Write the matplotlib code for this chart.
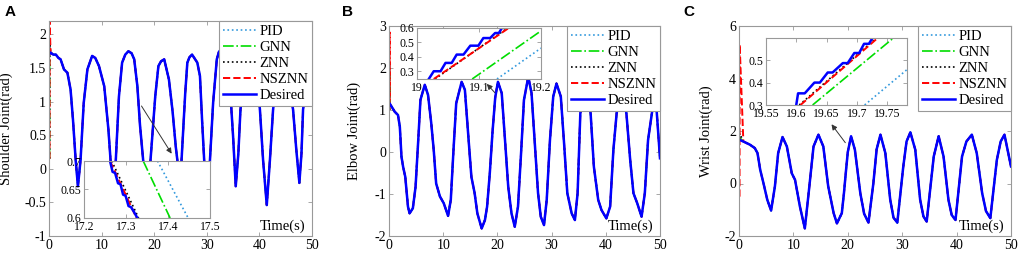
import numpy as np
import matplotlib
matplotlib.use("Agg")
import matplotlib.pyplot as plt

plt.rcParams['font.family'] = ['Liberation Serif', 'DejaVu Serif']
plt.rcParams['axes.unicode_minus'] = False

# ---- desired trajectories ----
t_a = [0, 0.3, 0.8, 1.3, 1.8, 2.2, 2.85, 3.5, 4.1, 4.56, 5.07, 5.5, 6.0, 6.6, 7.3, 8.2, 8.8,
       9.5, 10.5, 11.3, 11.7, 12.2, 12.7, 13.3, 13.9, 14.5, 15.1, 15.7, 16.2, 16.8, 17.3, 17.9,
       18.6, 19.3, 20.2, 20.8, 21.3, 21.9, 22.8, 23.5, 24.1, 24.4, 24.8, 25.2, 25.9, 26.3, 26.7,
       27.2, 28.2, 28.7, 29.1, 29.5, 30.0, 30.6, 31.2, 31.9, 32.3, 32.8, 33.8, 34.4, 35.0, 35.5,
       36.0, 36.4, 37.2, 38.3, 39.4, 40.1, 40.7, 41.4, 42.0, 42.6, 43.4, 44.2, 45.3, 46.4, 47.0,
       47.6, 48.0, 48.3, 49.0, 49.6, 50.0]
q_a = [1.70, 1.73, 1.70, 1.70, 1.65, 1.63, 1.48, 1.43, 1.18, 0.73, 0.13, -0.26, 0.13, 0.98, 1.48,
       1.68, 1.65, 1.53, 1.23, 0.58, 0.13, -0.40, 0.13, 1.08, 1.58, 1.70, 1.75, 1.72, 1.63, 1.23,
       0.65, 0.13, -0.45, 0.13, 1.08, 1.53, 1.60, 1.63, 1.33, 0.85, 0.33, 0.13, -0.40, 0.13, 1.13,
       1.58, 1.66, 1.70, 1.58, 1.38, 0.73, 0.13, -0.40, 0.13, 0.98, 1.63, 1.74, 1.79, 1.68, 1.23,
       0.48, -0.26, 0.23, 0.88, 1.45, 1.70, 1.50, 0.88, 0.13, -0.54, 0.13, 0.88, 1.45, 1.70, 1.50,
       0.88, 0.30, -0.21, 0.23, 0.88, 1.35, 1.60, 1.62]

t_b = [0, 0.1, 1.05, 1.66, 2.0, 2.3, 2.6, 3.0, 3.5, 3.8, 4.4, 4.9, 5.4, 5.8, 6.6, 7.2, 7.8, 8.25,
       8.7, 9.4, 10.1, 10.9, 11.4, 11.9, 12.4, 13.4, 14.0, 14.6, 15.2, 15.8, 16.3, 17.1, 17.7,
       18.1, 18.6, 19.1, 19.6, 20.1, 20.8, 21.4, 22.0, 22.6, 23.2, 23.8, 24.4, 24.9, 25.7, 26.3,
       26.9, 27.5, 28.0, 28.6, 29.1, 29.7, 30.3, 30.9, 31.7, 32.3, 32.9, 33.7, 34.3, 34.8, 35.3,
       36.3, 37.2, 37.8, 38.6, 39.2, 40.1, 40.8, 41.4, 42.0, 42.9, 43.8, 44.5, 45.1, 45.8, 46.6,
       47.2, 47.8, 48.5, 49.1, 50.0]
q_b = [1.10, 1.16, 0.96, 0.88, 0.60, -0.11, -0.35, -0.59, -1.30, -1.46, -1.34, -0.83, 0.29, 1.24,
       1.60, 1.36, 0.68, 0.05, -0.75, -1.06, -1.22, -1.52, -1.14, 0.05, 1.16, 1.67, 1.48, 0.44,
       -0.59, -0.98, -1.46, -1.82, -1.62, -1.30, -0.50, 0.48, 1.30, 1.67, 1.40, 0.29, -0.83, -1.46,
       -1.78, -1.30, 0.05, 1.24, 1.79, 1.40, 0.21, -0.98, -1.54, -1.74, -1.14, 0.29, 1.32, 1.63,
       1.32, 0.21, -0.98, -1.46, -1.62, -0.98, 0.92, 1.60, 0.92, -0.35, -1.14, -1.38, -1.58, -1.30,
       0.05, 0.92, 1.60, 0.92, -0.19, -0.98, -1.22, -1.54, -0.98, 0.29, 0.92, 1.50, -0.15]

t_c = [0, 0.8, 2.0, 2.9, 3.4, 3.9, 4.5, 5.2, 5.9, 6.6, 7.2, 8.0, 8.8, 9.7, 10.3, 11.2, 12.1, 12.8,
       13.7, 14.6, 15.5, 16.4, 17.4, 18.0, 18.9, 19.3, 19.65, 20.0, 20.6, 21.3, 22.3, 23.0, 23.8,
       24.7, 25.3, 26.0, 26.9, 27.8, 28.4, 29.1, 30.2, 30.8, 31.5, 32.4, 33.3, 33.9, 34.5, 35.8,
       36.7, 37.6, 38.5, 39.1, 39.8, 41.0, 41.8, 42.8, 43.7, 44.7, 45.4, 46.2, 47.4, 48.1, 48.8,
       50.0]
q_c = [1.67, 1.60, 1.48, 1.35, 1.16, 0.52, 0.01, -0.62, -1.03, -0.11, 1.16, 1.77, 1.41, 0.39,
       0.14, -0.88, -1.71, -0.37, 1.41, 1.86, 1.41, -0.11, -1.13, -1.52, -1.13, -0.35, 0.45, 1.20,
       1.80, 1.29, -0.37, -1.15, -1.49, 0.01, 1.30, 1.86, 1.16, -0.62, -1.30, -1.49, 0.65, 1.60,
       1.95, 1.29, -0.62, -1.25, -1.45, 1.03, 1.80, 1.03, -0.62, -1.20, -1.39, 1.03, 1.60, 1.86,
       1.16, -0.37, -1.05, -1.32, 0.90, 1.60, 1.86, 0.65]

# initial transients at t = 0 (start value, peak value) per method: PID, GNN, ZNN, NSZNN
spike_a = [(0.15, 1.70), (0.15, 1.75), (0.15, 1.95), (0.15, 2.20)]
spike_b = [(1.00, 1.10), (1.00, 1.90), (1.00, 2.10), (1.00, 2.85)]
spike_c = [(1.67, 1.80), (1.67, 1.75), (1.67, 1.90), (-0.50, 5.30)]

# ---- zoomed insets ----
ia_des_t = [17.262, 17.268, 17.274, 17.281, 17.287, 17.293, 17.299, 17.306, 17.312, 17.318, 17.327]
ia_des_y = [0.700, 0.681, 0.679, 0.661, 0.659, 0.641, 0.639, 0.621, 0.619, 0.612, 0.600]
ia_nsz_t = [17.262, 17.325]
ia_nsz_y = [0.700, 0.600]
ia_znn_t = [17.266, 17.330]
ia_znn_y = [0.700, 0.600]
ia_gnn_t = [17.341, 17.405]
ia_gnn_y = [0.700, 0.600]
ia_pid_t = [17.375, 17.448]
ia_pid_y = [0.700, 0.600]

ib_des_t = [19.019, 19.027, 19.038, 19.046, 19.056, 19.064, 19.075, 19.086, 19.099, 19.107,
            19.118, 19.126, 19.132, 19.137]
ib_des_y = [0.245, 0.299, 0.299, 0.357, 0.357, 0.415, 0.415, 0.477, 0.477, 0.530, 0.530, 0.565,
            0.565, 0.600]
ib_nsz_t = [19.027, 19.148]
ib_nsz_y = [0.245, 0.600]
ib_znn_t = [19.029, 19.146]
ib_znn_y = [0.245, 0.600]
ib_gnn_t = [19.089, 19.200]
ib_gnn_y = [0.245, 0.580]
ib_pid_t = [19.129, 19.200]
ib_pid_y = [0.245, 0.460]

ic_des_t = [19.600, 19.603, 19.614, 19.630, 19.639, 19.652, 19.660, 19.677, 19.685, 19.696,
            19.704, 19.712, 19.720, 19.726]
ic_des_y = [0.300, 0.352, 0.352, 0.400, 0.400, 0.445, 0.445, 0.487, 0.487, 0.532, 0.532, 0.573,
            0.573, 0.599]
ic_nsz_t = [19.607, 19.735]
ic_nsz_y = [0.300, 0.600]
ic_znn_t = [19.605, 19.733]
ic_znn_y = [0.300, 0.600]
ic_gnn_t = [19.627, 19.761]
ic_gnn_y = [0.300, 0.600]
ic_pid_t = [19.713, 19.783]
ic_pid_y = [0.300, 0.458]

methods = ['PID', 'GNN', 'ZNN', 'NSZNN']
styles = [dict(color='#3399dd', ls=':', lw=1.2),
          dict(color='#00dd00', ls='-.', lw=1.2),
          dict(color='black', ls=':', lw=1.2),
          dict(color='red', ls='--', lw=1.4)]
des_style = dict(color='blue', ls='-', lw=1.8)
grey = '#999999'

W, H = 1021, 258
fig = plt.figure(figsize=(W / 100, H / 100), dpi=100)


def px_axes(x0, y0, x1, y1):
    return fig.add_axes([x0 / W, 1 - y1 / H, (x1 - x0) / W, (y1 - y0) / H])


def style_axes(ax, size):
    for s in ax.spines.values():
        s.set_color(grey)
        s.set_linewidth(0.8)
    ax.tick_params(direction='in', top=True, right=True, length=3, width=0.6,
                   color=grey, labelsize=size, pad=2)


def main_panel(box, t, q, spikes, ylim, yticks, ylabel, ylab_x, letter, letter_x):
    ax = px_axes(*box)
    for (y0, y1), name, st in zip(spikes, methods, styles):
        ax.plot([0.1, 0.12] + t[1:], [y0, y1] + q[1:], label=name, **st)
    ax.plot(t, q, label='Desired', **des_style)
    ax.set_xlim(0, 50)
    ax.set_ylim(*ylim)
    ax.set_xticks(range(0, 51, 10))
    ax.set_yticks(yticks)
    ax.set_yticklabels([('%g' % v) for v in yticks])
    style_axes(ax, 10)
    ax.set_ylabel(ylabel, fontsize=10.5)
    ax.yaxis.set_label_coords(ylab_x, 0.5)
    ax.text(0.975, 0.012, 'Time(s)', transform=ax.transAxes, ha='right', va='bottom', fontsize=10.5)
    leg = ax.legend(loc='upper right', bbox_to_anchor=(1, 1), borderaxespad=0, fontsize=10.5,
                    labelspacing=0.2, handlelength=2.3, handletextpad=0.2, borderpad=0.25,
                    fancybox=False, framealpha=1)
    leg.get_frame().set_edgecolor(grey)
    leg.get_frame().set_linewidth(0.8)
    fig.text(letter_x / W, 1 - 5 / H, letter, family='Liberation Sans', fontweight='bold',
             fontsize=11, va='top', ha='left')
    return ax


def inset(box, des, others, xlim, ylim, xticks, yticks):
    ax = px_axes(*box)
    for (tt, yy), st in zip(others, styles):
        ax.plot(tt, yy, **st)
    ax.plot(des[0], des[1], **des_style)
    ax.set_xlim(*xlim)
    ax.set_ylim(*ylim)
    ax.set_xticks(xticks)
    ax.set_yticks(yticks)
    ax.set_xticklabels([('%g' % v) for v in xticks])
    ax.set_yticklabels([('%g' % v) for v in yticks])
    style_axes(ax, 8.5)
    return ax


ax_a = main_panel((49, 21, 312, 236), t_a, q_a, spike_a, (-1, 2.2), [-1, -0.5, 0, 0.5, 1, 1.5, 2],
                  'Shoulder Joint(rad)', -0.135, 'A', 5)
ax_b = main_panel((389, 26, 660, 236), t_b, q_b, spike_b, (-2, 3), [-2, -1, 0, 1, 2, 3],
                  'Elbow Joint(rad)', -0.105, 'B', 342)
ax_c = main_panel((739, 26, 1011, 236), t_c, q_c, spike_c, (-2, 6), [-2, 0, 2, 4, 6],
                  'Wrist Joint(rad)', -0.095, 'C', 683)

arrow = dict(arrowstyle='-|>', color='#333333', lw=0.7, mutation_scale=8)
ax_a.annotate('', xy=(23.6, 0.19), xytext=(17.3, 0.97), arrowprops=arrow)
ax_b.annotate('', xy=(17.7, 1.67), xytext=(19.9, 1.36), arrowprops=arrow)
ax_c.annotate('', xy=(16.7, 2.34), xytext=(19.85, 1.47), arrowprops=arrow)

inset((84, 161, 210, 218), (ia_des_t, ia_des_y),
      [(ia_pid_t, ia_pid_y), (ia_gnn_t, ia_gnn_y), (ia_znn_t, ia_znn_y), (ia_nsz_t, ia_nsz_y)],
      (17.2, 17.5), (0.6, 0.7), [17.2, 17.3, 17.4, 17.5], [0.6, 0.65, 0.7])
inset((417, 28, 541, 79), (ib_des_t, ib_des_y),
      [(ib_pid_t, ib_pid_y), (ib_gnn_t, ib_gnn_y), (ib_znn_t, ib_znn_y), (ib_nsz_t, ib_nsz_y)],
      (19.0, 19.2), (0.245, 0.6), [19.0, 19.1, 19.2], [0.3, 0.4, 0.5, 0.6])
inset((766, 38, 907, 105), (ic_des_t, ic_des_y),
      [(ic_pid_t, ic_pid_y), (ic_gnn_t, ic_gnn_y), (ic_znn_t, ic_znn_y), (ic_nsz_t, ic_nsz_y)],
      (19.55, 19.783), (0.3, 0.599), [19.55, 19.6, 19.65, 19.7, 19.75], [0.3, 0.4, 0.5])

fig.savefig('out.png', dpi=100)
